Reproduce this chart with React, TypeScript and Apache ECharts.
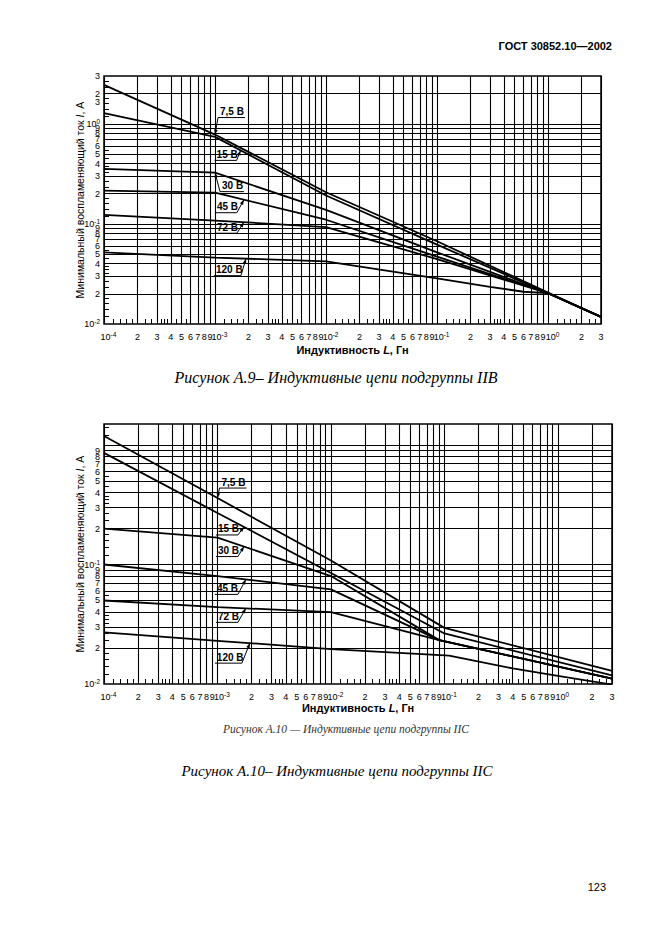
import React, { useEffect, useRef } from 'react';
import * as echarts from 'echarts';

// ---------------- axis ranges ----------------
const L_MIN = 0.0001;
const L_MAX = 3;
const IIB_I_MIN = 0.01;
const IIB_I_MAX = 3;
const IIC_I_MIN = 0.01;
const IIC_I_MAX = 1.5;

// ---------------- x tick labels: inductance L, H ----------------
const X_TICK_VALUES = [
  0.0001, 0.0002, 0.0003, 0.0004, 0.0005, 0.0006, 0.0007, 0.0008, 0.0009,
  0.001, 0.002, 0.003, 0.004, 0.005, 0.006, 0.007, 0.008, 0.009,
  0.01, 0.02, 0.03, 0.04, 0.05, 0.06, 0.07, 0.08, 0.09,
  0.1, 0.2, 0.3, 0.4, 0.5, 0.6, 0.7, 0.8, 0.9,
  1, 2, 3,
];
const X_TICK_LABELS = [
  '{sp| }10{sup|-4}', '2', '3', '4', '5', '6', '7', '8', '9',
  '{sp| }10{sup|-3}', '2', '3', '4', '5', '6', '7', '8', '9',
  '{sp| }10{sup|-2}', '2', '3', '4', '5', '6', '7', '8', '9',
  '{sp| }10{sup|-1}', '2', '3', '4', '5', '6', '7', '8', '9',
  '{sp| }10{sup|0}', '2', '3',
];
const X_GRID_VALUES = X_TICK_VALUES;
const MINOR_MANTISSAS = [1.2, 1.4, 1.6, 1.8, 2.33, 2.67, 3.25, 3.5, 3.75, 4.5, 5.5];

// ---------------- y tick labels: current I, A ----------------
const IIB_Y_TICK_VALUES = [
  0.01, 0.02, 0.03, 0.04, 0.05, 0.06, 0.07, 0.08, 0.09,
  0.1, 0.2, 0.3, 0.4, 0.5, 0.6, 0.7, 0.8, 0.9,
  1, 1.65, 2, 3,
];
const IIB_Y_TICK_LABELS = [
  '10{sup|-2}', '2', '3', '4', '5', '6', '7', '8', '9',
  '10{sup|-1}', '2', '3', '4', '5', '6', '7', '8', '9',
  '10{sup|0}', '3', '2', '3',
];
const IIB_Y_GRID_VALUES = [
  0.02, 0.03, 0.04, 0.05, 0.06, 0.07, 0.08, 0.09,
  0.1, 0.2, 0.3, 0.4, 0.5, 0.6, 0.7, 0.8, 0.9, 1, 2,
];
const IIC_Y_TICK_VALUES = [
  0.01, 0.02, 0.03, 0.04, 0.05, 0.06, 0.07, 0.08, 0.09,
  0.1, 0.2, 0.3, 0.4, 0.5, 0.6, 0.7, 0.8, 0.9, 1,
];
const IIC_Y_TICK_LABELS = [
  '10{sup|-2}', '2', '3', '4', '5', '6', '7', '8', '9',
  '10{sup|-1}', '2', '3', '4', '5', '6', '7', '8', '9',
  '10{sup|0}',
];
const IIC_Y_GRID_VALUES = [
  0.02, 0.03, 0.04, 0.05, 0.06, 0.07, 0.08, 0.09,
  0.1, 0.2, 0.3, 0.4, 0.5, 0.6, 0.7, 0.8, 0.9, 1,
];

// ---------------- Figure A.9 (subgroup IIB) curves ----------------
const IIB_75_L = [0.0001, 0.001, 0.01, 0.1, 1, 3];
const IIB_75_I = [2.45, 0.78, 0.207, 0.067, 0.0206, 0.0118];
const IIB_15_L = [0.0001, 0.001, 0.01, 0.1, 1, 3];
const IIB_15_I = [1.28, 0.74, 0.192, 0.062, 0.0203, 0.0118];
const IIB_30_L = [0.0001, 0.001, 0.01, 0.1, 1, 3];
const IIB_30_I = [0.355, 0.325, 0.138, 0.052, 0.0203, 0.0118];
const IIB_45_L = [0.0001, 0.001, 0.01, 0.1, 1, 3];
const IIB_45_I = [0.215, 0.205, 0.11, 0.047, 0.0203, 0.0118];
const IIB_72_L = [0.0001, 0.001, 0.01, 0.1, 1, 3];
const IIB_72_I = [0.123, 0.108, 0.093, 0.0445, 0.0203, 0.0118];
const IIB_120_L = [0.0001, 0.001, 0.01, 0.1, 0.3, 0.6, 1, 3];
const IIB_120_I = [0.052, 0.046, 0.0423, 0.0285, 0.0235, 0.021, 0.0203, 0.0118];

// ---------------- Figure A.10 (subgroup IIC) curves ----------------
const IIC_75_L = [0.0001, 0.001, 0.01, 0.1, 3];
const IIC_75_I = [1.19, 0.36, 0.108, 0.0295, 0.0129];
const IIC_15_L = [0.0001, 0.001, 0.01, 0.1, 3];
const IIC_15_I = [0.86, 0.27, 0.085, 0.0265, 0.0118];
const IIC_30_L = [0.0001, 0.001, 0.01, 0.09, 3];
const IIC_30_I = [0.2, 0.168, 0.08, 0.0233, 0.0111];
const IIC_45_L = [0.0001, 0.001, 0.01, 0.09, 3];
const IIC_45_I = [0.1, 0.08, 0.062, 0.0233, 0.0111];
const IIC_72_L = [0.0001, 0.001, 0.01, 0.09, 3];
const IIC_72_I = [0.05, 0.044, 0.04, 0.0233, 0.0111];
const IIC_120_L = [0.0001, 0.001, 0.01, 0.11, 0.4, 1, 3];
const IIC_120_I = [0.027, 0.023, 0.0196, 0.0173, 0.0135, 0.0117, 0.0099];

const CURVE_NAMES = ['7,5 В', '15 В', '30 В', '45 В', '72 В', '120 В'];

// label callouts: curve index, inductance where the arrow touches, offset of the underline end
const IIB_LABELS = [
  { curve: 0, L: 0.001, dx: 3, dy: -17, side: 'left', w: 27 },
  { curve: 1, L: 0.0017, dx: -4, dy: 10, side: 'right', w: 22 },
  { curve: 2, L: 0.001, dx: 5, dy: 19, side: 'left', w: 24 },
  { curve: 3, L: 0.00182, dx: -7, dy: 13, side: 'right', w: 22 },
  { curve: 4, L: 0.00182, dx: -7, dy: 11, side: 'right', w: 22 },
  { curve: 5, L: 0.0019, dx: -5, dy: 17, side: 'right', w: 27 },
];
const IIC_LABELS = [
  { curve: 0, L: 0.001, dx: 2, dy: -10, side: 'left', w: 27 },
  { curve: 1, L: 0.00171, dx: -6, dy: 8, side: 'right', w: 22 },
  { curve: 2, L: 0.00171, dx: -6, dy: 10, side: 'right', w: 22 },
  { curve: 3, L: 0.00178, dx: -8, dy: 15, side: 'right', w: 23 },
  { curve: 4, L: 0.00178, dx: -8, dy: 14, side: 'right', w: 22 },
  { curve: 5, L: 0.00193, dx: -8, dy: 20, side: 'right', w: 27 },
];

const SANS = '"Liberation Sans", Arial, sans-serif';
const SERIF = '"Liberation Serif", "Times New Roman", serif';

const zip = (a: number[], b: number[]) => a.map((v, i) => [v, b[i]]);

function minorTicks(lo: number, hi: number) {
  const out: number[] = [];
  for (let e = -5; e <= 1; e++) {
    for (const m of MINOR_MANTISSAS) {
      const v = m * Math.pow(10, e);
      if (v > lo && v < hi) out.push(v);
    }
  }
  return out;
}

const labelFor = (values: number[], labels: string[]) => (v: number) => {
  const lv = Math.log10(v);
  for (let i = 0; i < values.length; i++) {
    if (Math.abs(lv - Math.log10(values[i])) < 1e-6) return labels[i];
  }
  return '';
};

function interpLogLog(Ls: number[], Is: number[], L: number) {
  const x = Math.log10(L);
  for (let i = 0; i < Ls.length - 1; i++) {
    const x0 = Math.log10(Ls[i]);
    const x1 = Math.log10(Ls[i + 1]);
    if (x >= x0 && x <= x1) {
      const t = (x - x0) / (x1 - x0);
      return Math.pow(10, Math.log10(Is[i]) * (1 - t) + Math.log10(Is[i + 1]) * t);
    }
  }
  return Is[Is.length - 1];
}

const TICK_RICH = {
  sup: { fontSize: 6.5, fontFamily: SANS, color: '#000', verticalAlign: 'top', lineHeight: 7 },
  sp: { width: 9, fontSize: 6 },
};

function xAxisCfg(gi: number, nameGap: number) {
  return {
    type: 'log',
    logBase: 10,
    gridIndex: gi,
    min: L_MIN,
    max: L_MAX,
    name: 'Индуктивность {i|L}, Гн',
    nameLocation: 'middle',
    nameGap,
    nameMoveOverlap: false,
    nameTextStyle: {
      fontFamily: SANS, fontSize: 11, fontWeight: 'bold', color: '#000',
      rich: { i: { fontStyle: 'italic', fontWeight: 'bold', fontSize: 11, fontFamily: SANS, color: '#000' } },
    },
    axisLine: { show: false },
    splitLine: { show: false },
    axisTick: { show: true, inside: true, length: 5, customValues: minorTicks(L_MIN, L_MAX), lineStyle: { color: '#000', width: 1 } },
    axisLabel: {
      customValues: X_TICK_VALUES,
      formatter: labelFor(X_TICK_VALUES, X_TICK_LABELS),
      margin: 7, fontSize: 9, lineHeight: 12, fontFamily: SANS, color: '#000',
      rich: TICK_RICH,
    },
  };
}

function yAxisCfg(gi: number, min: number, max: number, vals: number[], labels: string[]) {
  return {
    type: 'log',
    logBase: 10,
    gridIndex: gi,
    min,
    max,
    name: 'Минимальный воспламеняющий ток {i|I}, А',
    nameLocation: 'middle',
    nameGap: 19,
    nameMoveOverlap: false,
    nameTextStyle: {
      fontFamily: SANS, fontSize: 10.5, color: '#000',
      rich: { i: { fontStyle: 'italic', fontSize: 10.5, fontFamily: SANS, color: '#000' } },
    },
    axisLine: { show: false },
    splitLine: { show: false },
    axisTick: { show: true, inside: true, length: 5, customValues: minorTicks(min, max), lineStyle: { color: '#000', width: 1 } },
    axisLabel: {
      customValues: vals,
      formatter: labelFor(vals, labels),
      margin: 4, fontSize: 9, lineHeight: 12, fontFamily: SANS, color: '#000',
      rich: TICK_RICH,
    },
  };
}

function gridLinesSeries(gi: number, yMin: number, yMax: number, yGrid: number[]) {
  const data = [
    ...X_GRID_VALUES.map((v) => ({ coords: [[v, yMin], [v, yMax]] })),
    ...yGrid.map((v) => ({ coords: [[L_MIN, v], [L_MAX, v]] })),
  ];
  return {
    type: 'lines',
    coordinateSystem: 'cartesian2d',
    xAxisIndex: gi,
    yAxisIndex: gi,
    silent: true,
    z: 1,
    lineStyle: { color: '#000', width: 1.1, opacity: 1 },
    data,
  };
}

const IIB_CURVES = [
  { L: IIB_75_L, I: IIB_75_I }, { L: IIB_15_L, I: IIB_15_I }, { L: IIB_30_L, I: IIB_30_I },
  { L: IIB_45_L, I: IIB_45_I }, { L: IIB_72_L, I: IIB_72_I }, { L: IIB_120_L, I: IIB_120_I },
];
const IIC_CURVES = [
  { L: IIC_75_L, I: IIC_75_I }, { L: IIC_15_L, I: IIC_15_I }, { L: IIC_30_L, I: IIC_30_I },
  { L: IIC_45_L, I: IIC_45_I }, { L: IIC_72_L, I: IIC_72_I }, { L: IIC_120_L, I: IIC_120_I },
];

function curveSeries(gi: number, curves: { L: number[]; I: number[] }[]) {
  return curves.map((c, k) => ({
    type: 'line',
    name: CURVE_NAMES[k] + (gi === 0 ? ' IIB' : ' IIC'),
    xAxisIndex: gi,
    yAxisIndex: gi,
    data: zip(c.L, c.I),
    showSymbol: false,
    symbol: 'none',
    silent: true,
    z: 3,
    lineStyle: { color: '#000', width: 1.8 },
  }));
}

const STATIC_GRAPHICS = [
  {
    type: 'text', x: 612, y: 46, silent: true,
    style: { text: 'ГОСТ 30852.10—2002', font: 'bold 11px ' + SANS, fill: '#000', align: 'right', verticalAlign: 'middle', textAlign: 'right', textVerticalAlign: 'middle' },
  },
  {
    type: 'text', x: 336, y: 377, silent: true,
    style: { text: 'Рисунок А.9– Индуктивные цепи подгруппы IIВ', font: 'italic 16px ' + SERIF, fill: '#000', align: 'center', verticalAlign: 'middle', textAlign: 'center', textVerticalAlign: 'middle' },
  },
  {
    type: 'text', x: 346, y: 729, silent: true,
    style: { text: 'Рисунок А.10 — Индуктивные цепи подгруппы IIС', font: 'italic 11.5px ' + SERIF, fill: '#333', align: 'center', verticalAlign: 'middle', textAlign: 'center', textVerticalAlign: 'middle' },
  },
  {
    type: 'text', x: 337, y: 771, silent: true,
    style: { text: 'Рисунок А.10– Индуктивные цепи подгруппы IIС', font: 'italic 15px ' + SERIF, fill: '#000', align: 'center', verticalAlign: 'middle', textAlign: 'center', textVerticalAlign: 'middle' },
  },
  {
    type: 'text', x: 606, y: 887, silent: true,
    style: { text: '123', font: '11px ' + SANS, fill: '#000', align: 'right', verticalAlign: 'middle', textAlign: 'right', textVerticalAlign: 'middle' },
  },
];

export default function App() {
  const ref = useRef<HTMLDivElement>(null);

  useEffect(() => {
    const el = ref.current;
    if (!el) return;
    const chart = echarts.init(el, null, { renderer: 'svg' });

    const series: any[] = [];
    series.push(gridLinesSeries(0, IIB_I_MIN, IIB_I_MAX, IIB_Y_GRID_VALUES));
    const iibStart = series.length;
    series.push(...curveSeries(0, IIB_CURVES));
    series.push(gridLinesSeries(1, IIC_I_MIN, IIC_I_MAX, IIC_Y_GRID_VALUES));
    const iicStart = series.length;
    series.push(...curveSeries(1, IIC_CURVES));

    const option: any = {
      animation: false,
      backgroundColor: '#fff',
      grid: [
        { left: 104, top: 76, width: 497, height: 248, show: true, borderColor: '#000', borderWidth: 1.5, backgroundColor: 'transparent' },
        { left: 104, top: 424, width: 508, height: 260, show: true, borderColor: '#000', borderWidth: 1.5, backgroundColor: 'transparent' },
      ],
      xAxis: [xAxisCfg(0, 20), xAxisCfg(1, 18)],
      yAxis: [
        yAxisCfg(0, IIB_I_MIN, IIB_I_MAX, IIB_Y_TICK_VALUES, IIB_Y_TICK_LABELS),
        yAxisCfg(1, IIC_I_MIN, IIC_I_MAX, IIC_Y_TICK_VALUES, IIC_Y_TICK_LABELS),
      ],
      series,
    };
    chart.setOption(option);

    const callouts: any[] = [];
    const addCallouts = (labels: any[], curves: { L: number[]; I: number[] }[], start: number) => {
      labels.forEach((lab) => {
        const c = curves[lab.curve];
        const I = interpLogLog(c.L, c.I, lab.L);
        const p = chart.convertToPixel({ seriesIndex: start + lab.curve }, [lab.L, I]) as number[];
        if (!p) return;
        const tx = p[0];
        const ty = p[1];
        const cx = tx + lab.dx;
        const cy = ty + lab.dy;
        const x0 = lab.side === 'left' ? cx : cx - lab.w;
        const x1 = x0 + lab.w;
        callouts.push({ type: 'line', silent: true, shape: { x1: x0, y1: cy, x2: x1, y2: cy }, style: { stroke: '#000', lineWidth: 1 } });
        callouts.push({ type: 'line', silent: true, shape: { x1: cx, y1: cy, x2: tx, y2: ty }, style: { stroke: '#000', lineWidth: 1 } });
        const len = Math.hypot(tx - cx, ty - cy) || 1;
        const ux = (tx - cx) / len;
        const uy = (ty - cy) / len;
        const bx = tx - ux * 5;
        const by = ty - uy * 5;
        const nx = -uy;
        const ny = ux;
        callouts.push({
          type: 'polygon', silent: true,
          shape: { points: [[tx, ty], [bx + nx * 1.8, by + ny * 1.8], [bx - nx * 1.8, by - ny * 1.8]] },
          style: { fill: '#000' },
        });
        callouts.push({
          type: 'text', silent: true, x: x0 + 2, y: cy - 1,
          style: { text: CURVE_NAMES[lab.curve], font: 'bold 10px ' + SANS, fill: '#000', align: 'left', verticalAlign: 'bottom', textAlign: 'left', textVerticalAlign: 'bottom' },
        });
      });
    };
    addCallouts(IIB_LABELS, IIB_CURVES, iibStart);
    addCallouts(IIC_LABELS, IIC_CURVES, iicStart);

    chart.setOption({ graphic: [...STATIC_GRAPHICS, ...callouts] });

    return () => chart.dispose();
  }, []);

  return (
    <div
      ref={ref}
      style={{ position: 'absolute', left: 0, top: 0, width: 661, height: 935, background: '#fff' }}
    />
  );
}
